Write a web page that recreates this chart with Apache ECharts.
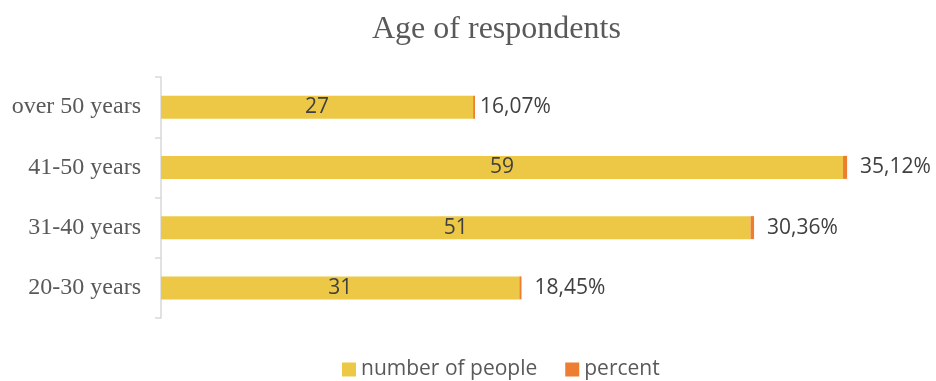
<!DOCTYPE html>
<html>
<head>
<meta charset="utf-8">
<script src="https://cdn.jsdelivr.net/npm/echarts@6/dist/echarts.min.js"></script>
<style>
  html, body { margin: 0; padding: 0; background: #fff; }
  #chart { width: 936px; height: 381px; }
</style>
</head>
<body>
<div id="chart"></div>
<script>
// Age groups, bottom to top
const categories = ['20-30 years', '31-40 years', '41-50 years', 'over 50 years'];
const people = [31, 51, 59, 27];
const percent = [0.1845, 0.3036, 0.3512, 0.1607];
const seriesNames = ['number of people', 'percent'];

const fmtPercent = v => (v * 100).toFixed(2).replace('.', ',') + '%';

const chart = echarts.init(document.getElementById('chart'));
chart.setOption({
  animation: false,
  title: {
    text: 'Age of respondents',
    left: 367,
    top: 9,
    textStyle: { fontFamily: 'Liberation Serif', fontSize: 32, fontWeight: 'normal', color: '#595959' }
  },
  legend: {
    data: seriesNames,
    top: 359,
    left: 342,
    padding: 0,
    itemWidth: 14,
    itemHeight: 14,
    itemGap: 28,
    icon: 'rect',
    textStyle: { fontFamily: 'Open Sans', fontSize: 21, color: '#595959' }
  },
  grid: { left: 161, top: 77, bottom: 63, right: 81.4, containLabel: false },
  xAxis: {
    type: 'value',
    min: 0,
    max: 60,
    show: false
  },
  yAxis: {
    type: 'category',
    data: categories,
    axisLine: { show: true, lineStyle: { color: '#d9d9d9', width: 1.5 } },
    axisTick: { show: true, length: 6, lineStyle: { color: '#d9d9d9', width: 1.5 } },
    axisLabel: { fontFamily: 'Liberation Serif', fontSize: 24, color: '#595959', margin: 20 }
  },
  series: [
    {
      name: seriesNames[0],
      type: 'bar',
      stack: 'total',
      barWidth: 23,
      data: people,
      itemStyle: { color: '#ECC846' },
      label: {
        show: true,
        position: 'inside',
        fontFamily: 'Open Sans',
        fontSize: 21,
        color: '#404040'
      }
    },
    {
      name: seriesNames[1],
      type: 'bar',
      stack: 'total',
      barWidth: 23,
      data: percent.map((v, i) => ({
        value: v,
        label: { distance: i === 3 ? 5 : 13 }
      })),
      itemStyle: { color: '#ED7D31' },
      label: {
        show: true,
        position: 'right',
        fontFamily: 'Open Sans',
        fontSize: 21,
        color: '#404040',
        formatter: p => fmtPercent(p.value)
      }
    }
  ]
});
</script>
</body>
</html>
